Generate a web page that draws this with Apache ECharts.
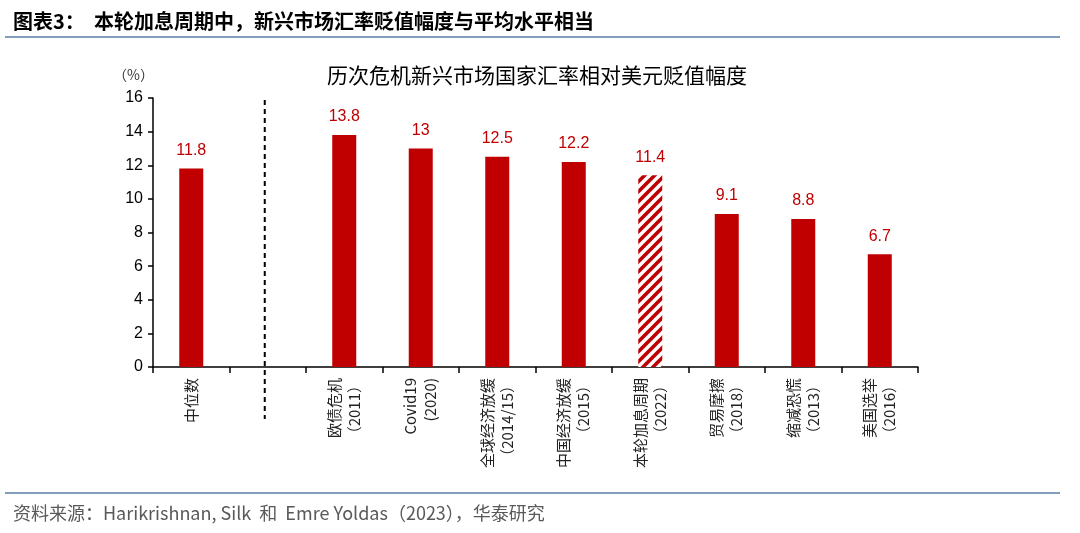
<!DOCTYPE html>
<html><head><meta charset="utf-8">
<script src="https://cdn.jsdelivr.net/npm/echarts@6/dist/echarts.min.js"></script>
<style>html,body{margin:0;padding:0;background:#fff;}#c{width:1080px;height:533px;}</style>
</head><body><div id="c"></div>
<script>
const categories = ['中位数', '', '欧债危机\n（2011）', 'Covid19\n(2020)', '全球经济放缓\n（2014/15）', '中国经济放缓\n（2015）', '本轮加息周期\n（2022）', '贸易摩擦\n（2018）', '缩减恐慌\n（2013）', '美国选举\n（2016）'];
const values = [11.8, null, 13.8, 13, 12.5, 12.2, 11.4, 9.1, 8.8, 6.7];
const hatchedIndex = 6;
const separatorIndex = 1;
const yTicks = [0, 2, 4, 6, 8, 10, 12, 14, 16];

const RED = '#c00000';
// stripe pattern
const pc = document.createElement('canvas');
pc.width = 10; pc.height = 10;
const g = pc.getContext('2d');
g.fillStyle = '#fff'; g.fillRect(0,0,10,10);
g.strokeStyle = RED; g.lineWidth = 3.6;
g.beginPath();
for (let k = -2; k <= 2; k++) { g.moveTo(k*10 - 2, 12); g.lineTo(k*10 + 12, -2); }
g.stroke();

const chart = echarts.init(document.getElementById('c'), null, {renderer: 'canvas'});
const FONT = '"Liberation Sans", Arial, sans-serif';
const CJK = '"Noto Sans CJK SC", "Liberation Sans", sans-serif';

const data = values.map((v, i) => i === hatchedIndex
  ? {value: v, itemStyle: {color: {image: pc, repeat: 'repeat'}}}
  : v);

chart.setOption({
  animation: false,
  backgroundColor: '#fff',
  title: [
    {text: '图表3：  本轮加息周期中，新兴市场汇率贬值幅度与平均水平相当', left: 8, top: 6,
     textStyle: {fontFamily: CJK, fontSize: 20, fontWeight: 'bold', color: '#000'}},
    {text: '历次危机新兴市场国家汇率相对美元贬值幅度', left: 532, textAlign: 'center', top: 60,
     textStyle: {fontFamily: CJK, fontSize: 21, fontWeight: 'normal', color: '#000'}},
    {text: '（%）', left: 108, top: 63,
     textStyle: {fontFamily: CJK, fontSize: 14, fontWeight: 'normal', color: '#333'}},
    {text: '资料来源：Harikrishnan, Silk  和  Emre Yoldas（2023），华泰研究', left: 8, top: 499,
     textStyle: {fontFamily: CJK, fontSize: 18, fontWeight: 'normal', color: '#595959'}}
  ],
  grid: {left: 153, right: 162, top: 98, bottom: 166, containLabel: false},
  xAxis: {
    type: 'category', data: categories,
    axisLine: {lineStyle: {color: '#000', width: 1.5}},
    axisTick: {show: true, alignWithLabel: false, length: 6, lineStyle: {color: '#000', width: 1.5}},
    axisLabel: {interval: 0, rotate: 90, margin: 11, fontSize: 15, color: '#222', fontFamily: CJK, lineHeight: 20}
  },
  yAxis: {
    type: 'value', min: 0, max: 16, interval: 2,
    splitLine: {show: false},
    axisLine: {show: true, lineStyle: {color: '#000', width: 1.5}},
    axisTick: {show: true, length: 5, lineStyle: {color: '#000', width: 1.5}},
    axisLabel: {fontSize: 16, color: '#000', fontFamily: FONT, margin: 10}
  },
  series: [{
    type: 'bar', data: data, barWidth: 24,
    itemStyle: {color: RED},
    label: {show: true, position: 'top', distance: 10, color: RED, fontSize: 16, fontFamily: FONT}
  }]
});

const sx = chart.convertToPixel({xAxisIndex: 0}, separatorIndex) - 3;
const yTop = chart.convertToPixel({yAxisIndex: 0}, 16) + 2;
const y0 = chart.convertToPixel({yAxisIndex: 0}, 0);
chart.setOption({
  graphic: [
    {type: 'line', shape: {x1: sx, y1: yTop, x2: sx, y2: y0 + 52}, style: {stroke: '#000', lineWidth: 2, lineDash: [5, 4]}},
    {type: 'line', shape: {x1: 5, y1: 37, x2: 1060, y2: 37}, style: {stroke: '#5a7ca6', lineWidth: 1.5}},
    {type: 'line', shape: {x1: 5, y1: 493, x2: 1060, y2: 493}, style: {stroke: '#5a7ca6', lineWidth: 1.5}}
  ]
});
</script></body></html>
